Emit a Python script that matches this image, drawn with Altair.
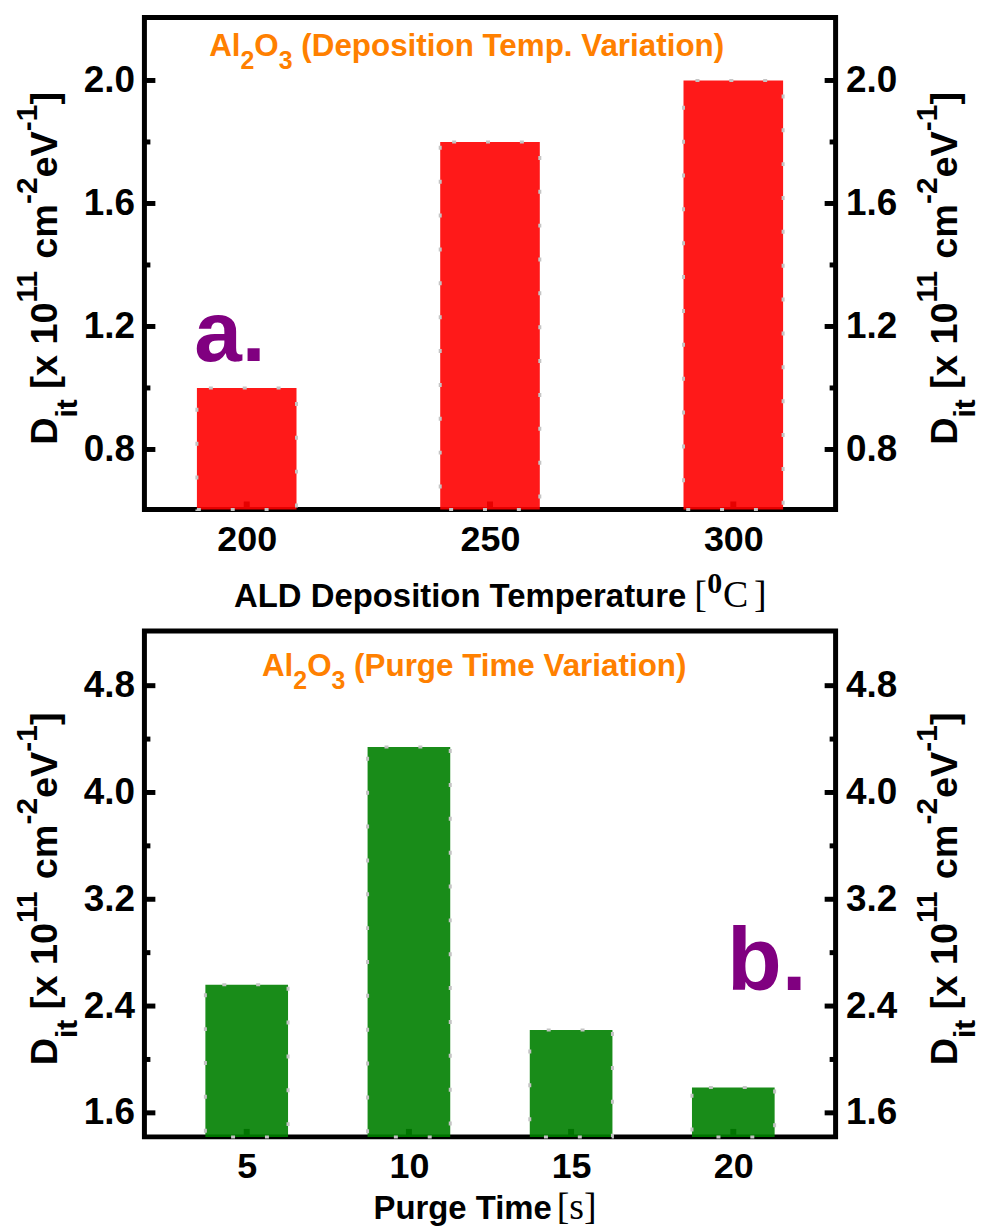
import altair as alt
import pandas as pd

# ---------------- data ----------------
temps = [200, 250, 300]
dit_temp = [1.0, 1.8, 2.0]
purge_times = [5, 10, 15, 20]
dit_purge = [2.56, 4.34, 2.22, 1.79]

top_major = [0.8, 1.2, 1.6, 2.0]
top_minor = [1.0, 1.4, 1.8]
bot_major = [1.6, 2.4, 3.2, 4.0, 4.8]
bot_minor = [2.0, 2.8, 3.6, 4.4]

top_ydomain = [0.605, 2.205]
bot_ydomain = [1.42, 5.21]
top_xdomain = [180, 320]
bot_xdomain = [2, 23]

# ---------------- layout constants ----------------
W = 694
H_TOP = 494
H_BOT = 508
SANS = "Liberation Sans"
SERIF = "Liberation Serif"
ORANGE = "#ff8000"
PURPLE = "#800080"

# Arial/Liberation Sans Bold advance widths (per 1000 em)
AW = {" ": 278, "(": 333, ")": 333, "-": 333, ".": 278, "[": 333, "]": 333,
      "A": 722, "C": 722, "D": 722, "L": 611, "O": 778, "P": 667, "T": 611, "V": 667,
      "a": 556, "c": 556, "e": 556, "g": 611, "i": 278, "l": 278, "m": 889, "n": 611,
      "o": 611, "p": 611, "r": 389, "s": 556, "t": 333, "u": 611, "x": 556}


def tw(s, size):
    return sum(AW.get(c, 556) for c in s) / 1000.0 * size


dummy = pd.DataFrame({"d": [0]})


def txt(t, x, y, size, color="black", font=SANS, weight="bold", angle=0, align="left"):
    kw = dict(text=t, font=font, fontSize=size, fontWeight=weight, color=color,
              align=align, baseline="alphabetic")
    if angle:
        kw["angle"] = angle
    return alt.Chart(dummy).mark_text(**kw).encode(x=alt.value(x), y=alt.value(y))


def split_lead(t):
    s = t.lstrip(" ")
    return t[: len(t) - len(s)], s


def rich_h(pieces, x0, y0, color):
    layers = []
    x = x0
    for t, size, shift in pieces:
        lead, body = split_lead(t)
        layers.append(txt(body, x + tw(lead, size), y0 + shift, size, color=color))
        x += tw(t, size)
    return layers


def rich_v(pieces, xb, center_y, sub_shift, sup_shift):
    total = sum(tw(t, s) for t, s, _ in pieces)
    y = center_y + total / 2.0
    layers = []
    for t, size, kind in pieces:
        shift = sub_shift if kind == "sub" else (-sup_shift if kind == "sup" else 0)
        lead, body = split_lead(t)
        layers.append(txt(body, xb + shift, y - tw(lead, size), size, angle=270))
        y -= tw(t, size)
    return layers


YTITLE = [("D", 38, ""), ("it", 30, "sub"), (" [x 10", 38, ""), ("11", 30, "sup"),
          (" cm", 38, ""), ("-2", 30, "sup"), ("eV", 38, ""), ("-1", 30, "sup"), ("]", 38, "")]


def panel(xs, ys, xdomain, ydomain, ymajor, yminor, color, barw, H, dash_off,
          title_pieces, title_xy, label, label_xy, label_size, extra_text):
    df = pd.DataFrame({"x": xs, "y": ys})
    xscale = alt.Scale(domain=xdomain, nice=False, zero=False)
    yscale = alt.Scale(domain=ydomain, nice=False, zero=False)
    xaxis = alt.Axis(values=xs, format="d", title=None, domain=False, ticks=False,
                     tickSize=0, labelPadding=13, labelFont=SANS, labelFontSize=36,
                     labelFontWeight="bold", labelColor="black", grid=False,
                     labelFlush=False, labelOverlap=False)
    yaxis_l = alt.Axis(values=ymajor, format=".1f", title=None, domain=False, ticks=False,
                       tickSize=0, labelPadding=10, labelFont=SANS, labelFontSize=37,
                       labelFontWeight="bold", labelColor="black", grid=False,
                       labelFlush=False, labelOverlap=False, orient="left")
    yaxis_r = alt.Axis(values=ymajor, format=".1f", title=None, domain=False, ticks=False,
                       tickSize=0, labelPadding=10, labelFont=SANS, labelFontSize=37,
                       labelFontWeight="bold", labelColor="black", grid=False,
                       labelFlush=False, labelOverlap=False, orient="right")

    xticks = alt.Chart(df).mark_rule(color="black", strokeWidth=6).encode(
        x=alt.X("x:Q", scale=xscale, axis=xaxis),
        y=alt.value(H), y2=alt.value(H - 8))

    bars = alt.Chart(df).mark_bar(
        width=barw, color=color, fillOpacity=0.9, stroke="#c4c4c4", strokeWidth=3,
        strokeDash=[4, 30], strokeDashOffset=dash_off).encode(
        x=alt.X("x:Q", scale=xscale, axis=xaxis),
        y=alt.Y("y:Q", scale=yscale, axis=yaxis_l),
        y2=alt.datum(ydomain[0]))

    maj = pd.DataFrame({"v": ymajor})
    mino = pd.DataFrame({"v": yminor})
    lmaj = alt.Chart(maj).mark_rule(color="black", strokeWidth=5).encode(
        y=alt.Y("v:Q", scale=yscale, axis=None), x=alt.value(0), x2=alt.value(11))
    lmin = alt.Chart(mino).mark_rule(color="black", strokeWidth=5).encode(
        y=alt.Y("v:Q", scale=yscale, axis=None), x=alt.value(0), x2=alt.value(6))
    rmaj = alt.Chart(maj).mark_rule(color="black", strokeWidth=5).encode(
        y=alt.Y("v:Q", scale=yscale, axis=yaxis_r), x=alt.value(W - 11), x2=alt.value(W))
    rmin = alt.Chart(mino).mark_rule(color="black", strokeWidth=5).encode(
        y=alt.Y("v:Q", scale=yscale, axis=None), x=alt.value(W - 6), x2=alt.value(W))

    layers = [xticks, bars, lmaj, lmin, rmaj, rmin]
    layers += rich_h(title_pieces, title_xy[0], title_xy[1], ORANGE)
    layers.append(txt(label, label_xy[0], label_xy[1], label_size, color=PURPLE))
    layers += rich_v(YTITLE, -88, H / 2.0 + 5, 20, 20)
    layers += rich_v(YTITLE, 816, H / 2.0 + 5, 18, 20)
    layers += extra_text

    return alt.layer(*layers).resolve_axis(y="independent").properties(width=W, height=H)


top_title = [("Al", 31.5, 0), ("2", 25, 13), ("O", 31.5, 0), ("3", 25, 13),
             (" (Deposition Temp. Variation)", 31.5, 0)]
bot_title = [("Al", 31.5, 0), ("2", 25, 13), ("O", 31.5, 0), ("3", 25, 13),
             (" (Purge Time Variation)", 31.5, 0)]

top_xtitle = [
    txt("ALD Deposition Temperature", 90, H_TOP + 98, 33),
    txt("[", 552, H_TOP + 98, 38, font=SERIF, weight="normal"),
    txt("0", 565, H_TOP + 84, 30, font=SERIF, weight="bold"),
    txt("C", 581, H_TOP + 98, 38, font=SERIF, weight="normal"),
    txt("]", 612, H_TOP + 98, 38, font=SERIF, weight="normal"),
]
bot_xtitle = [
    txt("Purge Time", 230, H_BOT + 82, 33),
    txt("[s]", 414, H_BOT + 82, 38, font=SERIF, weight="normal"),
]

top = panel(temps, dit_temp, top_xdomain, top_ydomain, top_major, top_minor,
            "#ff0000", 100, H_TOP, 22, top_title, (65, 39), "a.", (50, 345), 86, top_xtitle)
bottom = panel(purge_times, dit_purge, bot_xdomain, bot_ydomain, bot_major, bot_minor,
               "#008000", 83, H_BOT, 17, bot_title, (118, 45), "b.", (585, 361), 90, bot_xtitle)

chart = alt.vconcat(top, bottom, spacing=10).properties(
    padding={"left": 10, "top": 12, "right": 0, "bottom": 0}
).configure_view(stroke="black", strokeWidth=5)

chart.save("out.html", embed_options={"renderer": "svg", "actions": False})
